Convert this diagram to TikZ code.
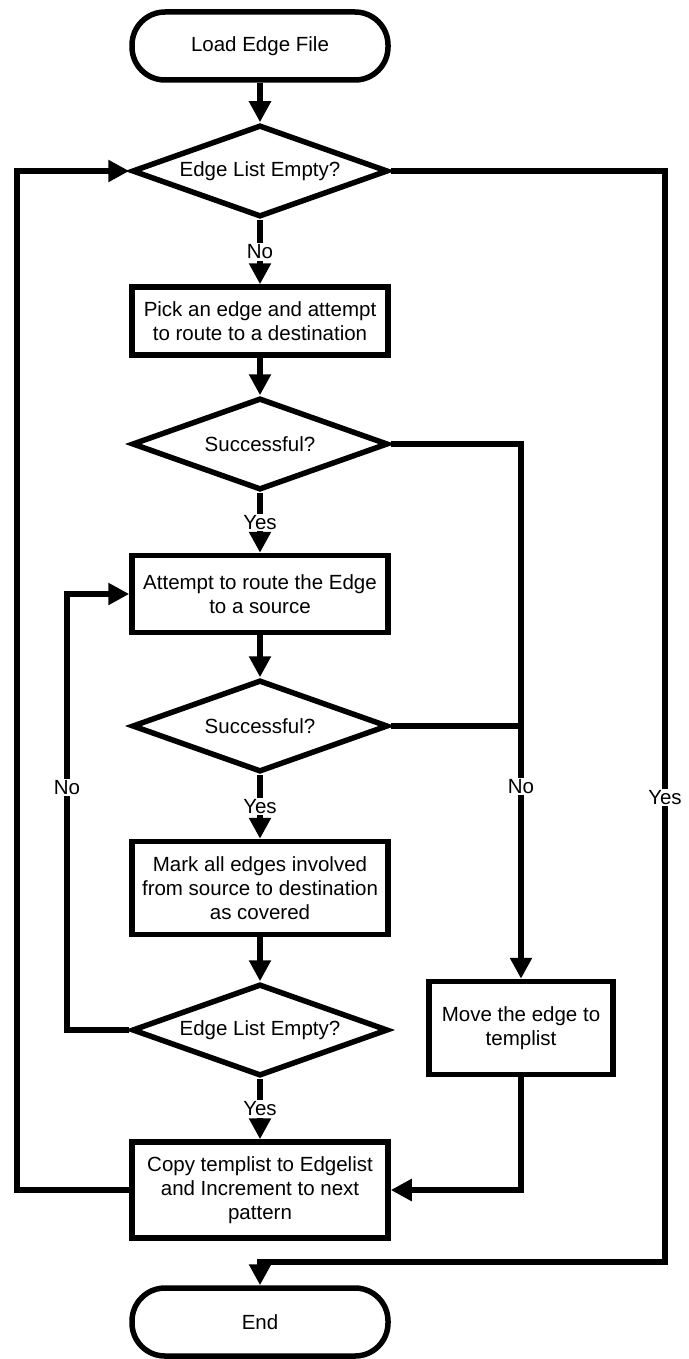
\documentclass[tikz,border=0pt]{standalone}
\usepackage{fontspec}
\setmainfont{Liberation Sans}
\usetikzlibrary{shapes.geometric,arrows.meta}
\begin{document}
\begin{tikzpicture}[x=1pt,y=-1pt,
  every node/.style={font=\fontsize{20.5}{24}\selectfont, align=center},
  base/.style={draw=black, line width=5.5pt, fill=white, inner sep=0pt},
  term/.style={base, rounded corners=33pt, minimum width=256pt, minimum height=68pt},
  proc/.style={base, minimum width=256pt},
  dec/.style={base, diamond, shape aspect=2.8, minimum width=256pt, minimum height=92pt},
  lbl/.style={fill=white, inner sep=1.5pt},
  conn/.style={line width=5.5pt},
  arr/.style={conn, -{Triangle[length=21pt,width=21pt]}}
]
\useasboundingbox (0,0) rectangle (688,1359);
\coordinate (xl1) at (17,0);
\coordinate (xl2) at (67,0);
\coordinate (xr) at (665,0);
\coordinate (yE) at (0,1262);

\node[term] (start) at (260,46) {Load Edge File};
\node[dec] (d1) at (260,171) {Edge List Empty?};
\node[proc, minimum height=68pt] (p1) at (260,321) {Pick an edge and attempt\\to route to a destination};
\node[dec] (d2) at (260,444) {Successful?};
\node[proc, minimum height=77pt] (p2) at (260,594) {Attempt to route the Edge\\to a source};
\node[dec] (d3) at (260,726) {Successful?};
\node[proc, minimum height=93pt] (p3) at (260,888) {Mark all edges involved\\from source to destination\\as covered};
\node[dec] (d4) at (260,1030) {Edge List Empty?};
\node[proc, minimum height=96pt] (p4) at (260,1190) {Copy templist to Edgelist\\and Increment to next\\pattern};
\node[term] (end) at (260,1322) {End};
\node[proc, minimum width=184pt, minimum height=93pt] (mv) at (521,1028) {Move the edge to\\templist};

\draw[arr] (start) -- (d1);
\draw[arr] (d1.south) -- node[lbl] {No} (p1.north);
\draw[arr] (p1) -- (d2);
\draw[arr] (d2.south) -- node[lbl] {Yes} (p2.north);
\draw[arr] (p2) -- (d3);
\draw[arr] (d3.south) -- node[lbl] {Yes} (p3.north);
\draw[arr] (p3) -- (d4);
\draw[arr] (d4.south) -- node[lbl] {Yes} (p4.north);

\draw[arr] (d2.east) -- (mv.north |- d2.east) -- node[lbl, pos=0.64] {No} (mv.north);
\draw[conn] (d3.east) -- (mv.north |- d3.east);
\draw[arr] (mv.south) |- (p4.east);

\draw[arr] (d4.west) -- (d4.west -| xl2) -- node[lbl, pos=0.557] {No} (p2.west -| xl2) -- (p2.west);
\draw[arr] (p4.west) -- (p4.west -| xl1) -- (d1.west -| xl1) -- (d1.west);
\draw[arr] (d1.east) -- (d1.east -| xr) -- node[lbl, pos=0.574] {Yes} (xr |- yE) -- (end.north |- yE) -- (end.north);
\end{tikzpicture}
\end{document}
